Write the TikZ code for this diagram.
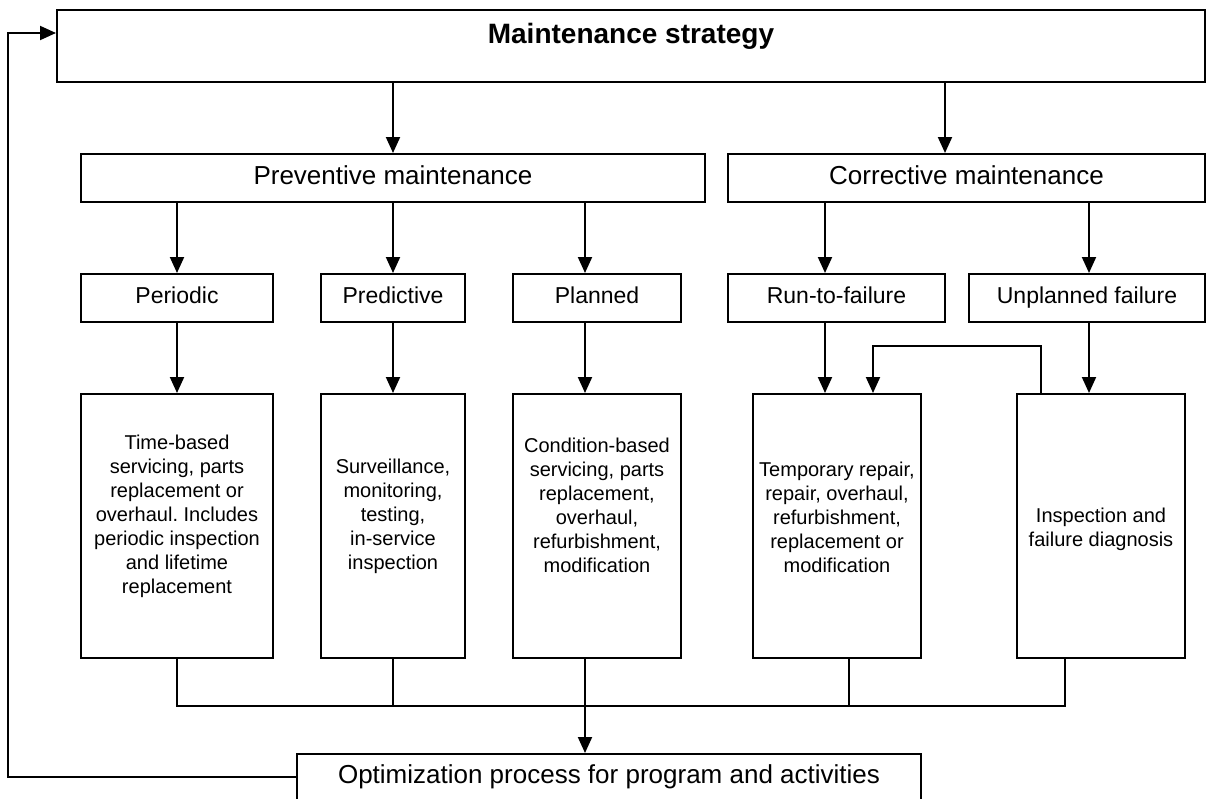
\documentclass[tikz,border=0pt]{standalone}
\usepackage{fontspec}
\setmainfont{Liberation Sans}
\usetikzlibrary{arrows.meta}
\frenchspacing
\begin{document}
\begin{tikzpicture}[x=1pt,y=-1pt,
  box/.style={draw, line width=2pt, inner sep=0pt},
  conn/.style={line width=2pt},
  arr/.style={line width=2pt, -{Triangle[width=14pt,length=16pt]}},
  titlefont/.style={font=\fontsize{28}{33}\selectfont\bfseries},
  lvltwo/.style={font=\fontsize{26}{31}\selectfont, text height=18.6pt, text depth=5.5pt},
  lvlthree/.style={font=\fontsize{23}{28}\selectfont, text height=16.5pt, text depth=4.8pt},
  smalltext/.style={font=\fontsize{20}{24}\selectfont, align=center, inner sep=0pt}]
\useasboundingbox (0,0) rectangle (1207,798);
% boxes
\node[box, minimum width=1148pt, minimum height=72pt] (top) at (631,46) {};
\node[titlefont, anchor=base] (title) at (631,43) {Maintenance strategy};
\node[box, lvltwo, minimum width=624pt, minimum height=48pt] (prev) at (393,178) {Preventive maintenance};
\node[box, lvltwo, minimum width=477pt, minimum height=48pt] (corr) at (966.5,178) {Corrective maintenance};
\node[box, lvlthree, minimum width=192pt, minimum height=48pt] (per) at (177,298) {Periodic};
\node[box, lvlthree, minimum width=144pt, minimum height=48pt] (pred) at (393,298) {Predictive};
\node[box, lvlthree, minimum width=168pt, minimum height=48pt] (plan) at (597,298) {Planned};
\node[box, lvlthree, minimum width=217pt, minimum height=48pt] (run) at (836.5,298) {Run-to-failure};
\node[box, lvlthree, minimum width=236pt, minimum height=48pt] (unpl) at (1087,298) {Unplanned failure};
\node[box, minimum width=192pt, minimum height=264pt] (perB) at (177,526) {};
\node[box, minimum width=144pt, minimum height=264pt] (predB) at (393,526) {};
\node[box, minimum width=168pt, minimum height=264pt] (planB) at (597,526) {};
\node[box, minimum width=168pt, minimum height=264pt] (tempB) at (837,526) {};
\node[box, minimum width=168pt, minimum height=264pt] (insp) at (1101,526) {};
\node[smalltext] (perT) at (177,516) {Time-based\\servicing, parts\\replacement or\\overhaul. Includes\\periodic inspection\\and lifetime\\replacement};
\node[smalltext] (predT) at (393,516) {Surveillance,\\monitoring,\\testing,\\in-service\\inspection};
\node[smalltext] (planT) at (597,505) {Condition-based\\servicing, parts\\replacement,\\overhaul,\\refurbishment,\\modification};
\node[smalltext] (tempT) at (837,517) {Temporary repair,\\repair, overhaul,\\refurbishment,\\replacement or\\modification};
\node[smalltext] (inspT) at (1101,529) {Inspection and\\failure diagnosis};
\node[box, lvltwo, minimum width=624pt, minimum height=46pt] (opt) at (609,777) {Optimization process for program and activities};
% column coordinates
\coordinate (xA) at (585,0);
\coordinate (xB) at (825,0);
\coordinate (xC) at (1089,0);
\coordinate (xD) at (945,0);
\coordinate (xE) at (873,0);
\coordinate (xF) at (1041,0);
\coordinate (xG) at (849,0);
\coordinate (xH) at (1065,0);
\coordinate (busL) at (177,706);
\coordinate (fbtop) at (8,33);
% arrows level 1 -> 2
\draw[arr] (top.south -| prev.north) -- (prev.north);
\draw[arr] (top.south -| xD) -- (corr.north -| xD);
% level 2 -> 3
\draw[arr] (prev.south -| per.north) -- (per.north);
\draw[arr] (prev.south -| pred.north) -- (pred.north);
\draw[arr] (prev.south -| xA) -- (plan.north -| xA);
\draw[arr] (corr.south -| xB) -- (run.north -| xB);
\draw[arr] (corr.south -| xC) -- (unpl.north -| xC);
% level 3 -> 4
\draw[arr] (per.south) -- (perB.north);
\draw[arr] (pred.south) -- (predB.north);
\draw[arr] (plan.south -| xA) -- (planB.north -| xA);
\draw[arr] (run.south -| xB) -- (tempB.north -| xB);
\draw[arr] (unpl.south -| xC) -- (insp.north -| xC);
% feedback inspection -> temporary
\draw[arr] (insp.north -| xF) -- ++(0,-47) -| (tempB.north -| xE);
% bus
\draw[conn] (perB.south) -- (busL) -- (busL -| xH) -- (insp.south -| xH);
\draw[conn] (predB.south) -- (predB.south |- busL);
\draw[conn] (tempB.south -| xG) -- (xG |- busL);
\draw[arr] (planB.south -| xA) -- (opt.north -| xA);
% feedback to top
\draw[arr] (opt.west) -| (fbtop) -- (top.west |- fbtop);
\end{tikzpicture}
\end{document}
